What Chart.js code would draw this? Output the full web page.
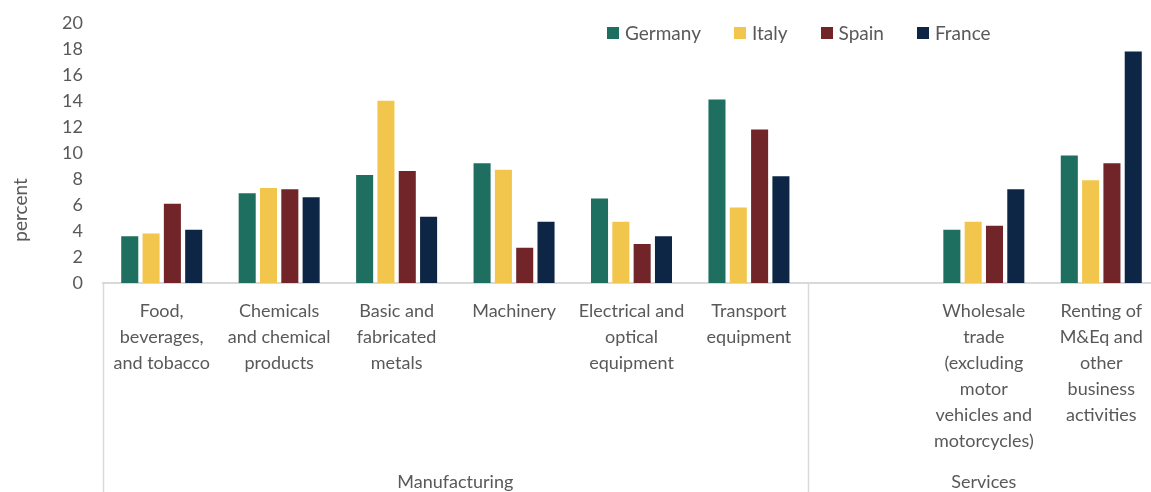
<!DOCTYPE html>
<html>
<head>
<meta charset="utf-8">
<script src="https://cdn.jsdelivr.net/npm/chart.js@4.4.0/dist/chart.umd.min.js"></script>
<style>
  html, body { margin: 0; padding: 0; background: #fff; overflow: hidden; }
  #wrap { position: relative; width: 1160px; height: 492px; }
  #legend { position: absolute; top: 21px; left: 607px; display: flex; font-family: Lato, sans-serif; font-size: 19px; color: #595959; }
  #legend .item { display: flex; align-items: center; margin-right: 33px; }
  #legend .box { width: 12px; height: 12px; margin-right: 6px; }
</style>
</head>
<body>
<div id="wrap">
  <canvas id="myChart" width="1160" height="492"></canvas>
  <div id="legend"></div>
</div>
<script>
var categories = [
    ['Food,', 'beverages,', 'and tobacco'],
    ['Chemicals', 'and chemical', 'products'],
    ['Basic and', 'fabricated', 'metals'],
    ['Machinery'],
    ['Electrical and', 'optical', 'equipment'],
    ['Transport', 'equipment'],
    '',
    ['Wholesale', 'trade', '(excluding', 'motor', 'vehicles and', 'motorcycles)'],
    ['Renting of', 'M&Eq and', 'other', 'business', 'activities']
];
// sector groups: label + how many categories they span
var groups = ['Manufacturing', 'Services'];
var groupSizes = [6, 3];

var countries = ['Germany', 'Italy', 'Spain', 'France'];
var germany = [3.6, 6.9, 8.3, 9.2, 6.5, 14.1, null, 4.1, 9.8];
var italy = [3.8, 7.3, 14.0, 8.7, 4.7, 5.8, null, 4.7, 7.9];
var spain = [6.1, 7.2, 8.6, 2.7, 3.0, 11.8, null, 4.4, 9.2];
var france = [4.1, 6.6, 5.1, 4.7, 3.6, 8.2, null, 7.2, 17.8];
var colors = ['#1f6f61', '#f2c64c', '#722528', '#0e2645'];

var grey = '#595959';
var lineGrey = '#d9d9d9';

// separators between sector groups, group names and the y title
var groupAxis = {
    id: 'groupAxis',
    afterDraw: function(chart) {
        var ctx = chart.ctx;
        var x = chart.scales.x;
        var area = chart.chartArea;
        var step = x.getPixelForValue(1) - x.getPixelForValue(0);
        var bottom = chart.height;
        ctx.save();
        ctx.strokeStyle = lineGrey;
        ctx.lineWidth = 1.5;
        var start = 0;
        var edges = [x.getPixelForValue(0) - step / 2];
        for (var g = 0; g < groups.length; g++) {
            var first = x.getPixelForValue(start) - step / 2;
            var last = x.getPixelForValue(start + groupSizes[g] - 1) + step / 2;
            edges.push(last);
            ctx.fillStyle = grey;
            ctx.font = '18px Lato';
            ctx.textAlign = 'center';
            ctx.textBaseline = 'middle';
            ctx.fillText(groups[g], (first + last) / 2, 482);
            start += groupSizes[g];
        }
        edges.forEach(function(e) {
            ctx.beginPath();
            ctx.moveTo(Math.round(e) + 0.5, area.bottom);
            ctx.lineTo(Math.round(e) + 0.5, bottom);
            ctx.stroke();
        });
        // y axis title
        ctx.translate(21, 210);
        ctx.rotate(-Math.PI / 2);
        ctx.fillStyle = grey;
        ctx.font = '19px Lato';
        ctx.textAlign = 'center';
        ctx.textBaseline = 'middle';
        ctx.fillText('percent', 0, 0);
        ctx.restore();
    }
};

var series = [germany, italy, spain, france];
var datasets = countries.map(function(name, i) {
    return {
        label: name,
        data: series[i],
        backgroundColor: colors[i],
        categoryPercentage: 0.726,
        barPercentage: 0.8
    };
});

var ctx = document.getElementById('myChart');
var myChart = new Chart(ctx, {
    type: 'bar',
    data: {
        labels: categories,
        datasets: datasets
    },
    options: {
        responsive: false,
        animation: false,
        layout: { padding: { top: 17, left: 0, right: 0, bottom: 0 } },
        plugins: {
            legend: { display: false },
            tooltip: { enabled: false }
        },
        scales: {
            x: {
                grid: { display: false },
                border: { color: lineGrey, width: 2 },
                ticks: {
                    color: grey,
                    font: { family: 'Lato', size: 18, lineHeight: 1.45 },
                    maxRotation: 0,
                    autoSkip: false,
                    padding: 7
                },
                afterFit: function(scale) { scale.height = 209; }
            },
            y: {
                min: 0,
                max: 20,
                grid: { display: false },
                border: { display: false },
                ticks: {
                    stepSize: 2,
                    color: grey,
                    font: { family: 'Lato', size: 18 },
                    padding: 12
                },
                afterFit: function(scale) { scale.width = 103; }
            }
        }
    },
    plugins: [groupAxis]
});

// legend built from the datasets
var legend = document.getElementById('legend');
myChart.data.datasets.forEach(function(ds) {
    var item = document.createElement('div');
    item.className = 'item';
    var box = document.createElement('span');
    box.className = 'box';
    box.style.background = ds.backgroundColor;
    var txt = document.createElement('span');
    txt.textContent = ds.label;
    item.appendChild(box);
    item.appendChild(txt);
    legend.appendChild(item);
});
</script>
</body>
</html>
